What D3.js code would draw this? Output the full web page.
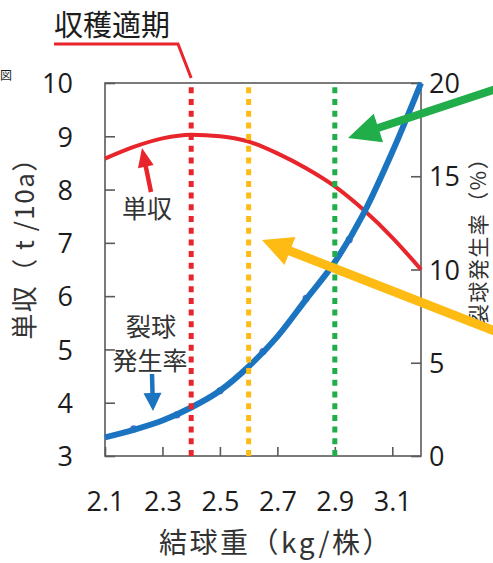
<!DOCTYPE html>
<html><head><meta charset="utf-8">
<script src="https://cdn.jsdelivr.net/npm/d3@7"></script>
<style>
html,body{margin:0;padding:0;background:#fff;}
svg{display:block;}
</style></head>
<body>
<svg id="c" width="493" height="563"></svg>
<script>
// ---- data ----
const curveX = [2.1, 2.2, 2.3, 2.4, 2.5, 2.6, 2.7, 2.8, 2.9, 3.0, 3.1, 3.2];
const yieldValues = [8.58, 8.8, 8.96, 9.03, 9.0, 8.9, 8.68, 8.4, 8.06, 7.62, 7.1, 6.5];
const crackValues = [1.0, 1.4, 1.9, 2.6, 3.5, 4.8, 6.4, 8.4, 10.4, 13.0, 16.3, 20.0];
const crackDotX = [2.2, 2.35, 2.5, 2.65, 2.8, 2.95];
const crackDotValues = [1.45, 2.2, 3.5, 5.6, 8.45, 11.6];
const markerX = [2.4, 2.6, 2.9];
const markerColors = ["#e8252b", "#fdbb13", "#22ad4b"];
const xTicks = [2.1, 2.3, 2.5, 2.7, 2.9, 3.1];
const xTickLabels = ["2.1", "2.3", "2.5", "2.7", "2.9", "3.1"];
const yLeftTicks = [3, 4, 5, 6, 7, 8, 9, 10];
const yRightTicks = [0, 5, 10, 15, 20];
const titleText = "収穫適期";
const xTitle = "結球重（kg/株）";
const yLeftTitle = "単収（ t /10a）";
const yRightTitle = "裂球発生率（%）";
const yieldLabel = "単収";
const crackLabel = ["裂球", "発生率"];

// ---- layout ----
const L = 105, R = 421, T = 83, B = 456;
const svg = d3.select("#c");
const x = d3.scaleLinear().domain([2.1, 3.2]).range([L, R]);
const yL = d3.scaleLinear().domain([3, 10]).range([B, T]);
const yR = d3.scaleLinear().domain([0, 20]).range([B, T]);
const numFont = "'Open Sans', 'Noto Sans', sans-serif";
const jpFont = "'Noto Sans CJK JP', 'Noto Sans', sans-serif";
const textCol = "#1c1c1c";
const axisCol = "#5a5a5a";

// axes
const gx = svg.append("g").attr("transform", `translate(0,${B})`)
  .call(d3.axisBottom(x).tickValues(xTicks).tickFormat((d,i)=>xTickLabels[i])
        .tickSizeInner(-9).tickSizeOuter(0).tickPadding(36));
const gyl = svg.append("g").attr("transform", `translate(${L},0)`)
  .call(d3.axisLeft(yL).tickValues(yLeftTicks).tickFormat(d3.format("d"))
        .tickSizeInner(-10).tickSizeOuter(0).tickPadding(32));
const gyr = svg.append("g").attr("transform", `translate(${R},0)`)
  .call(d3.axisRight(yR).tickValues(yRightTicks).tickFormat(d3.format("d"))
        .tickSizeInner(-10).tickSizeOuter(0).tickPadding(8));
[gx, gyl, gyr].forEach(g => {
  g.select(".domain").remove();
  g.selectAll("line").attr("stroke", axisCol).attr("stroke-width", 1.6);
  g.selectAll("text").attr("font-family", numFont).attr("font-size", 27).attr("fill", textCol);
});
gyl.selectAll("text").attr("dy", "0.36em");
gyr.selectAll("text").attr("dy", "0.36em");

// frame
svg.append("rect").attr("x", L).attr("y", T).attr("width", R - L).attr("height", B - T)
  .attr("fill", "none").attr("stroke", axisCol).attr("stroke-width", 1.6);

// curves
const yieldLine = d3.line().x((d,i)=>x(curveX[i])).y(d=>yL(d)).curve(d3.curveMonotoneX);
const crackLine = d3.line().x((d,i)=>x(curveX[i])).y(d=>yR(d)).curve(d3.curveMonotoneX);

svg.append("g").selectAll("circle").data(crackDotValues).join("circle")
  .attr("cx", (d,i)=>x(crackDotX[i])).attr("cy", d=>yR(d)).attr("r", 3.6).attr("fill", "#5b6fc6");

svg.append("path").datum(yieldValues).attr("d", yieldLine)
  .attr("fill", "none").attr("stroke", "#e8252b").attr("stroke-width", 4);
svg.append("path").datum(crackValues).attr("d", crackLine)
  .attr("fill", "none").attr("stroke", "#1b74c0").attr("stroke-width", 6);

// dotted vertical markers
svg.append("g").selectAll("line").data(markerX).join("line")
  .attr("x1", d=>x(d)).attr("x2", d=>x(d)).attr("y1", B).attr("y2", T + 2)
  .attr("stroke", (d,i)=>markerColors[i]).attr("stroke-width", 5)
  .attr("stroke-dasharray", "6,5.7");

// title callout
svg.append("text").attr("x", 54).attr("y", 36).text(titleText)
  .attr("font-family", jpFont).attr("font-size", 29).attr("fill", textCol);
svg.append("path")
  .attr("d", `M54,44 L178,44 L${x(markerX[0])},78`)
  .attr("fill", "none").attr("stroke", "#e8252b").attr("stroke-width", 3);

// small char at left edge
svg.append("text").attr("x", 0).attr("y", 80).text("図")
  .attr("font-family", jpFont).attr("font-size", 12).attr("fill", textCol);

// axis titles
svg.append("text").attr("transform", `translate(34,242) rotate(-90)`)
  .attr("text-anchor", "middle").text(yLeftTitle)
  .attr("font-family", jpFont).attr("font-size", 26).attr("letter-spacing", 1.5).attr("fill", "#333");
svg.append("text").attr("transform", `translate(486,236) rotate(-90)`)
  .attr("text-anchor", "middle").text(yRightTitle)
  .attr("font-family", jpFont).attr("font-size", 21).attr("letter-spacing", 1.5).attr("fill", "#333");
svg.append("text").attr("x", 276).attr("y", 553).attr("text-anchor", "middle").text(xTitle)
  .attr("font-family", jpFont).attr("font-size", 28).attr("letter-spacing", 2.5).attr("fill", "#333");

// in-plot labels
svg.append("text").attr("x", 147).attr("y", 218).attr("text-anchor", "middle").text(yieldLabel)
  .attr("font-family", jpFont).attr("font-size", 25).attr("fill", "#333");
svg.append("text").attr("x", 151).attr("y", 336).attr("text-anchor", "middle").text(crackLabel[0])
  .attr("font-family", jpFont).attr("font-size", 25).attr("fill", "#333");
svg.append("text").attr("x", 150).attr("y", 370).attr("text-anchor", "middle").text(crackLabel[1])
  .attr("font-family", jpFont).attr("font-size", 25).attr("fill", "#333");

// arrows
function arrow(x1, y1, x2, y2, w, headLen, headW, color) {
  const dx = x2 - x1, dy = y2 - y1, len = Math.hypot(dx, dy);
  const ux = dx / len, uy = dy / len, px = -uy, py = ux;
  const bx = x2 - ux * headLen, by = y2 - uy * headLen;
  svg.append("line").attr("x1", x1).attr("y1", y1).attr("x2", bx + ux*2).attr("y2", by + uy*2)
    .attr("stroke", color).attr("stroke-width", w);
  svg.append("path").attr("d",
    `M${x2},${y2} L${bx + px*headW/2},${by + py*headW/2} L${bx - px*headW/2},${by - py*headW/2} Z`)
    .attr("fill", color);
}
arrow(151, 192, 142, 148, 4.5, 19, 16, "#e8252b");
arrow(152, 374, 153, 411, 4.5, 18, 18, "#1b74c0");
arrow(505, 86, 348, 138, 8, 32, 30, "#22ad4b");
arrow(505, 335, 262, 240, 9, 30, 30, "#fdbb13");
</script>
</body></html>
